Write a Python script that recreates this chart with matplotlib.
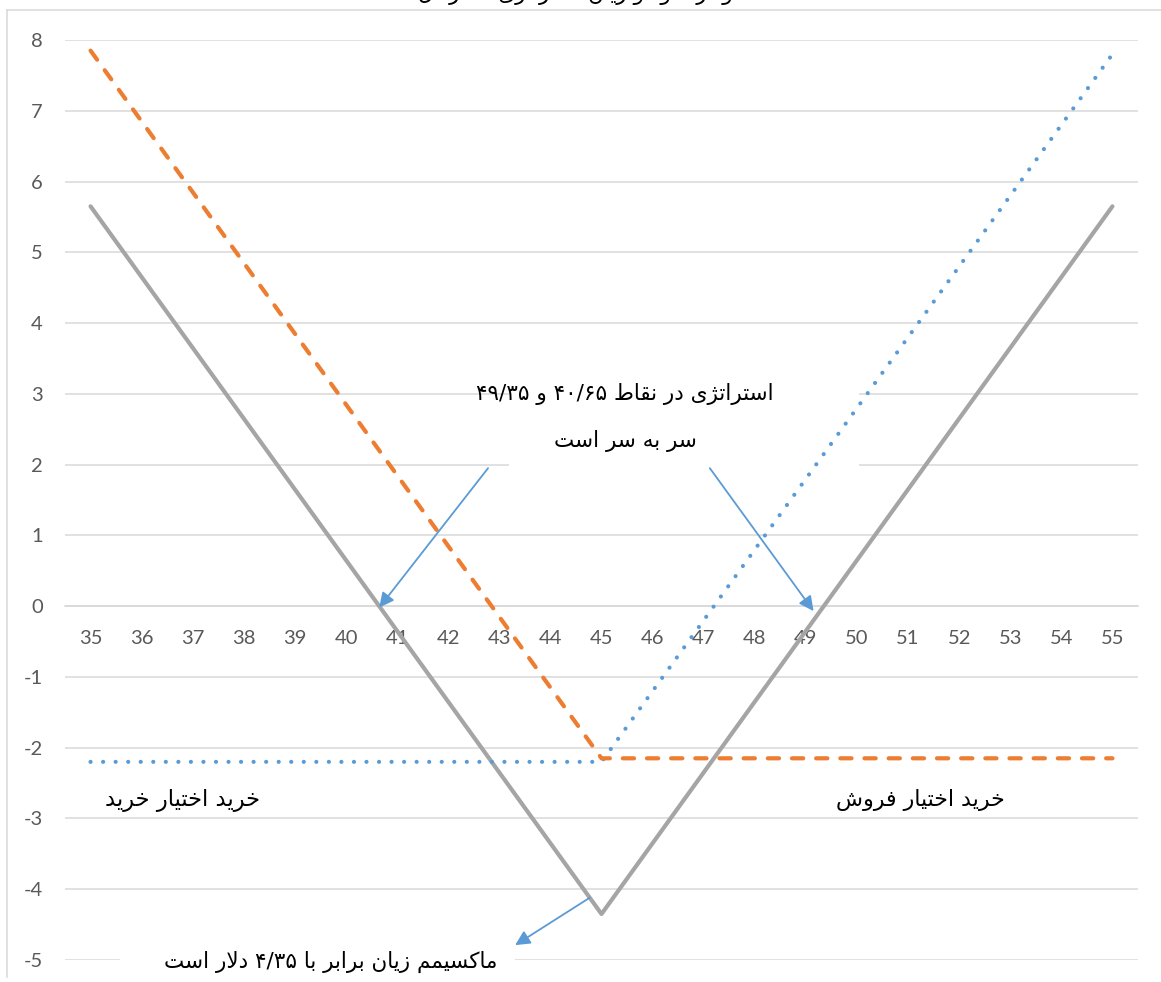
import matplotlib
matplotlib.use("Agg")
import matplotlib.pyplot as plt
from matplotlib.lines import Line2D
from matplotlib.patches import Rectangle

# ---------------- data ----------------
strikes = list(range(35, 56))
tick_labels = [str(s) for s in strikes]
call_payoff = [-2.2, -2.2, -2.2, -2.2, -2.2, -2.2, -2.2, -2.2, -2.2, -2.2, -2.2,
               -1.2, -0.2, 0.8, 1.8, 2.8, 3.8, 4.8, 5.8, 6.8, 7.8]
put_payoff = [7.85, 6.85, 5.85, 4.85, 3.85, 2.85, 1.85, 0.85, -0.15, -1.15, -2.15,
              -2.15, -2.15, -2.15, -2.15, -2.15, -2.15, -2.15, -2.15, -2.15, -2.15]
straddle_payoff = [5.65, 4.65, 3.65, 2.65, 1.65, 0.65, -0.35, -1.35, -2.35, -3.35, -4.35,
                   -3.35, -2.35, -1.35, -0.35, 0.65, 1.65, 2.65, 3.65, 4.65, 5.65]
y_ticks = list(range(-5, 9))

title_text = "نمودار سود و زیان استراتژی استرادل"
note_breakeven = ["استراتژی در نقاط ۴۰/۶۵ و ۴۹/۳۵", "سر به سر است"]
note_maxloss = "ماکسیمم زیان برابر با ۴/۳۵ دلار است"
label_call = "خرید اختیار خرید"
label_put = "خرید اختیار فروش"

# ------------- minimal Arabic/Persian shaping -------------
FORMS = {
    'ا': (0xFE8D, 0xFE8E, None, None), 'آ': (0xFE81, 0xFE82, None, None),
    'ب': (0xFE8F, 0xFE90, 0xFE91, 0xFE92), 'ت': (0xFE95, 0xFE96, 0xFE97, 0xFE98),
    'ث': (0xFE99, 0xFE9A, 0xFE9B, 0xFE9C), 'ج': (0xFE9D, 0xFE9E, 0xFE9F, 0xFEA0),
    'ح': (0xFEA1, 0xFEA2, 0xFEA3, 0xFEA4), 'خ': (0xFEA5, 0xFEA6, 0xFEA7, 0xFEA8),
    'د': (0xFEA9, 0xFEAA, None, None), 'ذ': (0xFEAB, 0xFEAC, None, None),
    'ر': (0xFEAD, 0xFEAE, None, None), 'ز': (0xFEAF, 0xFEB0, None, None),
    'ژ': (0xFB8A, 0xFB8B, None, None),
    'س': (0xFEB1, 0xFEB2, 0xFEB3, 0xFEB4), 'ش': (0xFEB5, 0xFEB6, 0xFEB7, 0xFEB8),
    'ص': (0xFEB9, 0xFEBA, 0xFEBB, 0xFEBC), 'ض': (0xFEBD, 0xFEBE, 0xFEBF, 0xFEC0),
    'ط': (0xFEC1, 0xFEC2, 0xFEC3, 0xFEC4), 'ظ': (0xFEC5, 0xFEC6, 0xFEC7, 0xFEC8),
    'ع': (0xFEC9, 0xFECA, 0xFECB, 0xFECC), 'غ': (0xFECD, 0xFECE, 0xFECF, 0xFED0),
    'ف': (0xFED1, 0xFED2, 0xFED3, 0xFED4), 'ق': (0xFED5, 0xFED6, 0xFED7, 0xFED8),
    'ك': (0xFED9, 0xFEDA, 0xFEDB, 0xFEDC), 'ک': (0xFB8E, 0xFB8F, 0xFB90, 0xFB91),
    'گ': (0xFB92, 0xFB93, 0xFB94, 0xFB95), 'ل': (0xFEDD, 0xFEDE, 0xFEDF, 0xFEE0),
    'م': (0xFEE1, 0xFEE2, 0xFEE3, 0xFEE4), 'ن': (0xFEE5, 0xFEE6, 0xFEE7, 0xFEE8),
    'ه': (0xFEE9, 0xFEEA, 0xFEEB, 0xFEEC), 'و': (0xFEED, 0xFEEE, None, None),
    'ي': (0xFEF1, 0xFEF2, 0xFEF3, 0xFEF4), 'ی': (0xFBFC, 0xFBFD, 0xFBFE, 0xFBFF),
    'پ': (0xFB56, 0xFB57, 0xFB58, 0xFB59), 'چ': (0xFB7A, 0xFB7B, 0xFB7C, 0xFB7D),
    'ئ': (0xFE89, 0xFE8A, 0xFE8B, 0xFE8C),
}


def dual(c):
    return c in FORMS and FORMS[c][2] is not None


def shape_word(w):
    out = []
    i = 0
    n = len(w)
    prev = None
    while i < n:
        c = w[i]
        if c == 'ل' and i + 1 < n and w[i + 1] == 'ا':
            code = 0xFEFC if (prev is not None and dual(prev)) else 0xFEFB
            out.append(chr(code))
            prev = 'ا'
            i += 2
            continue
        if c not in FORMS:
            out.append(c)
            prev = None
            i += 1
            continue
        jp = prev is not None and dual(prev)
        jn = i + 1 < n and w[i + 1] in FORMS and dual(c)
        iso, fin, ini, med = FORMS[c]
        if jp and jn:
            code = med
        elif jp:
            code = fin
        elif jn:
            code = ini
        else:
            code = iso
        out.append(chr(code))
        prev = c
        i += 1
    return ''.join(reversed(out))


def rtl(line):
    words = []
    for w in line.split(' '):
        if any(ch in FORMS for ch in w):
            words.append(shape_word(w))
        else:
            words.append(w)
    return ' '.join(reversed(words))


# ---------------- figure ----------------
W, H = 1161, 982
fig = plt.figure(figsize=(W / 100, H / 100), dpi=100)
ax = fig.add_axes([65 / W, 1 - 960 / H, (1138 - 65) / W, (960 - 40) / H])

grid_c = '#D9D9D9'
txt_c = '#595959'
ar_font = ['DejaVu Sans']
num_font = ['Lato', 'DejaVu Sans']
ar_size = 15.5

for s in ['left', 'right', 'top']:
    ax.spines[s].set_visible(False)
ax.spines['bottom'].set_position(('data', 0))
ax.spines['bottom'].set_color(grid_c)
ax.spines['bottom'].set_linewidth(1.1)

ax.set_xlim(34.5, 55.5)
ax.set_ylim(-5, 8)
ax.set_yticks(y_ticks)
ax.set_yticklabels([str(v) for v in y_ticks], fontfamily=num_font, fontsize=14.5, color=txt_c)
ax.set_xticks(strikes)
ax.set_xticklabels(tick_labels, fontfamily=num_font, fontsize=14.5, color=txt_c)
ax.tick_params(axis='y', length=0, pad=16)
ax.tick_params(axis='x', length=0, pad=17)
ax.grid(axis='y', color=grid_c, lw=1.1, zorder=0)
ax.set_axisbelow(True)

# white boxes behind annotations
ax.add_patch(Rectangle((43.19, 1.9), 6.85, 1.38, facecolor='white', edgecolor='none', zorder=1))
ax.add_patch(Rectangle((35.58, -5.4), 7.73, 0.75, facecolor='white', edgecolor='none',
                       zorder=1, clip_on=False))

ax.plot(strikes, straddle_payoff, color='#A5A5A5', lw=3, solid_capstyle='round', zorder=3)
ax.plot(strikes, call_payoff, color='#5B9BD5', lw=3, linestyle=(0, (0.01, 3.0)),
        dash_capstyle='round', zorder=4)
ax.plot(strikes, put_payoff, color='#ED7D31', lw=3, linestyle=(0, (2.7, 3.1)),
        dash_capstyle='round', zorder=5)

# annotations
ax.text(45.46, 3.0, rtl(note_breakeven[0]), ha='center', va='center',
        fontfamily=ar_font, fontsize=ar_size, color='black', zorder=6)
ax.text(45.46, 2.33, rtl(note_breakeven[1]), ha='center', va='center',
        fontfamily=ar_font, fontsize=ar_size, color='black', zorder=6)
arrow_kw = dict(arrowstyle='-|>', color='#5B9BD5', lw=1.3, mutation_scale=22,
                shrinkA=0, shrinkB=0)
ax.annotate('', xy=(40.65, -0.02), xytext=(42.78, 1.95), arrowprops=arrow_kw, zorder=7)
ax.annotate('', xy=(49.15, -0.07), xytext=(47.12, 1.95), arrowprops=arrow_kw, zorder=7)
ax.annotate('', xy=(43.31, -4.79), xytext=(44.77, -4.12), arrowprops=arrow_kw,
            zorder=7, annotation_clip=False)

ax.text(39.7, -5.03, rtl(note_maxloss), ha='center', va='center', fontfamily=ar_font,
        fontsize=ar_size, color='black', zorder=6, clip_on=False)
ax.text(36.8, -2.74, rtl(label_call), ha='center', va='center', fontfamily=ar_font,
        fontsize=ar_size + 0.8, color='black', zorder=6)
ax.text(51.25, -2.74, rtl(label_put), ha='center', va='center', fontfamily=ar_font,
        fontsize=ar_size + 0.4, color='black', zorder=6)

# chart frame remnants and clipped title
fig.add_artist(Line2D([7 / W, 1], [1 - 10 / H, 1 - 10 / H], color=grid_c, lw=1.1))
fig.add_artist(Line2D([7 / W, 7 / W], [0.005, 1 - 10 / H], color=grid_c, lw=1.1))
fig.text(585 / W, 1 + 6 / H, rtl(title_text), ha='center', va='center',
         fontfamily=ar_font, fontsize=ar_size, color='black')

fig.savefig('out.png', dpi=100)
